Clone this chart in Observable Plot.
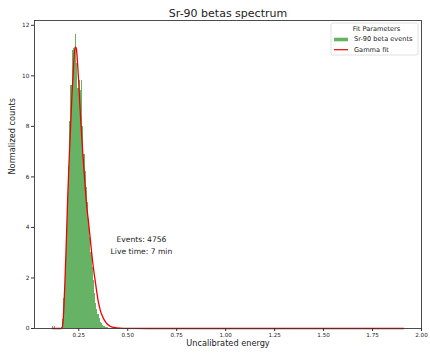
<!DOCTYPE html>
<html>
<head>
<meta charset="utf-8">
<script src="https://cdn.jsdelivr.net/npm/d3@7"></script>
<script src="https://cdn.jsdelivr.net/npm/@observablehq/plot@0.6"></script>
<style>
  html, body { margin: 0; padding: 0; background: #fff; }
  #chart { width: 430px; height: 353px; }
</style>
</head>
<body>
<div id="chart"></div>
<script>
// ---- Data ----
const titleText = "Sr-90 betas spectrum";
const xLabel = "Uncalibrated energy";
const yLabel = "Normalized counts";

// histogram bin edges (n+1) and normalized counts (n)
const binEdges = [0.114,0.120,0.126,0.132,0.138,0.144,0.150,0.156,0.162,0.168,
  0.174,0.180,0.186,0.192,0.198,0.204,0.210,0.216,0.222,0.228,
  0.234,0.240,0.246,0.252,0.258,0.264,0.270,0.276,0.282,0.288,
  0.294,0.300,0.306,0.312,0.318,0.324,0.330,0.336,0.342,0.348,
  0.354,0.360,0.366,0.372,0.378,0.384,0.390,0.396,0.402,0.408];
const binCounts = [0.08,0,0.06,0,0,0,0,0,0.03,0.35,
  1.2,2.5,3.8,5.0,6.4,8.2,9.6,11.0,11.1,10.9,
  11.65,10.5,9.5,9.8,9.4,9.8,8.0,6.9,6.2,5.6,
  5.0,4.3,3.6,3.0,2.4,1.9,1.4,1.0,0.75,0.55,
  0.4,0.25,0.18,0.12,0.08,0.05,0.03,0.02,0.01];

const fitX = [0.114,0.160,0.166,0.170,0.175,0.180,0.185,0.190,0.195,0.200,
  0.205,0.210,0.215,0.220,0.225,0.231,0.237,0.243,0.250,0.256,
  0.262,0.270,0.280,0.290,0.300,0.310,0.320,0.330,0.340,0.350,
  0.360,0.370,0.380,0.395,0.410,0.430,0.460,0.500,0.600,1.000,1.500,1.910];
const fitY = [0,0,0.05,0.3,1.0,2.0,3.1,4.3,5.5,6.5,
  7.4,8.3,9.2,9.9,10.6,11.15,11.1,10.6,9.7,8.8,
  8.0,7.0,5.9,4.9,4.2,3.45,2.7,2.1,1.55,1.05,
  0.72,0.5,0.34,0.18,0.09,0.04,0.012,0.003,0,0,0,0];

const xTicks = [0.25,0.50,0.75,1.00,1.25,1.50,1.75,2.00];
const yTicks = [0,2,4,6,8,10,12];

const annotX = [0.57];
const annotY = [3.35];
const annotText = ["Events: 4756\nLive time: 7 min"];

const legendTitle = "Fit Parameters";
const legendLabels = ["Sr-90 beta events", "Gamma fit"];

const green = "rgb(102,179,102)";
const red = "#f00000";
const font = "DejaVu Sans, sans-serif";

// ---- Build tables ----
const bins = binCounts.map((v, i) => ({x1: binEdges[i], x2: binEdges[i + 1], y: v}));
const fit = fitX.map((x, i) => ({x, y: fitY[i]}));
const annots = annotX.map((x, i) => ({x, y: annotY[i], t: annotText[i]}));

const chart = Plot.plot({
  width: 430,
  height: 353,
  marginTop: 20,
  marginBottom: 25,
  marginLeft: 34,
  marginRight: 9,
  style: {fontFamily: font, color: "#222", background: "#fff"},
  x: {domain: [0.024, 2.0]},
  y: {domain: [0, 12.19]},
  marks: [
    Plot.rectY(bins, {x1: "x1", x2: "x2", y: "y", fill: green, inset: 0, shapeRendering: "crispEdges"}),
    Plot.line(fit, {x: "x", y: "y", stroke: red, strokeWidth: 1.3, curve: "monotone-x"}),
    Plot.text(annots, {x: "x", y: "y", text: "t", fontSize: 7.6, lineHeight: 1.6, fill: "#222", textAnchor: "middle"}),
    Plot.frame({stroke: "#3a3a3a", strokeWidth: 0.9}),
    Plot.axisX({ticks: xTicks, tickFormat: d3.format(".2f"), tickSize: 3, tickPadding: 1.5, fontSize: 5.6, label: null, stroke: "#333"}),
    Plot.axisY({ticks: yTicks, tickFormat: d3.format("d"), tickSize: 3, tickPadding: 2, fontSize: 5.8, label: null, stroke: "#333"}),
    Plot.text([xLabel], {frameAnchor: "bottom", dy: 17.5, fontSize: 8.2, fill: "#222"}),
    Plot.text([yLabel], {frameAnchor: "left", dx: -22, rotate: -90, fontSize: 8.2, fill: "#222"}),
    Plot.text([titleText], {frameAnchor: "top", dy: -11, fontSize: 11, fill: "#222"})
  ]
});

document.getElementById("chart").appendChild(chart);

// ---- Legend (matplotlib style box, upper right) ----
const svg = d3.select(chart);
const lg = svg.append("g").attr("font-family", font).attr("fill", "#222").attr("text-anchor", "start");
lg.append("rect").attr("x", 331).attr("y", 23).attr("width", 87).attr("height", 32)
  .attr("rx", 2).attr("fill", "rgba(255,255,255,0.8)").attr("stroke", "#d8d8d8").attr("stroke-width", 0.8);
lg.append("text").attr("x", 376.5).attr("y", 29.5).attr("text-anchor", "middle")
  .attr("dominant-baseline", "middle").attr("font-size", 6.6).attr("fill", "#222").text(legendTitle);
lg.append("rect").attr("x", 334).attr("y", 37.7).attr("width", 14).attr("height", 3.6).attr("fill", green);
lg.append("text").attr("x", 354).attr("y", 39.6).attr("text-anchor", "start").attr("dominant-baseline", "middle")
  .attr("font-size", 6.6).attr("fill", "#222").text(legendLabels[0]);
lg.append("line").attr("x1", 334).attr("x2", 348).attr("y1", 49.7).attr("y2", 49.7)
  .attr("stroke", red).attr("stroke-width", 1.2);
lg.append("text").attr("x", 354).attr("y", 49.8).attr("text-anchor", "start").attr("dominant-baseline", "middle")
  .attr("font-size", 6.6).attr("fill", "#222").text(legendLabels[1]);
</script>
</body>
</html>
